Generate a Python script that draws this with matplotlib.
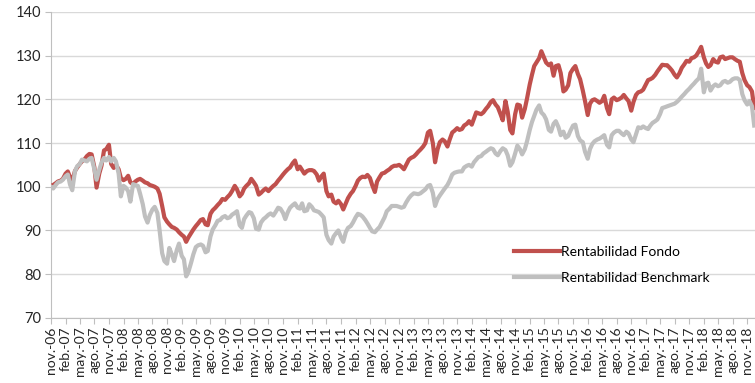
import matplotlib
matplotlib.use("Agg")
import matplotlib.pyplot as plt
import matplotlib.dates as mdates
from matplotlib.ticker import FuncFormatter, MultipleLocator
import pandas as pd

plt.rcParams['font.family'] = ['Lato', 'DejaVu Sans']

# semi-monthly observations, nov-06 .. dic-18
fechas = pd.date_range("2006-11-01", periods=292, freq="SMS")

fondo = [
    100.2, 100.4, 100.8, 101.2,
    # 2007
    101.4, 101.8, 103.0, 103.5, 102.2, 101.3, 103.6, 104.4, 105.2, 105.8, 106.3, 107.0,
    107.5, 107.4, 104.5, 99.8, 103.0, 104.8, 108.3, 108.6, 109.6, 105.2, 104.3, 105.0,
    # 2008
    104.0, 102.0, 101.5, 101.8, 102.5, 101.0, 100.6, 101.2, 101.6, 101.8, 101.4, 101.0,
    100.8, 100.4, 100.2, 100.0, 99.6, 98.4, 95.6, 93.0, 92.0, 91.4, 90.8, 90.6,
    # 2009
    90.2, 89.6, 89.0, 88.6, 87.4, 88.4, 89.4, 90.2, 91.0, 91.6, 92.4, 92.6,
    91.4, 91.2, 93.8, 94.6, 95.2, 95.8, 96.4, 97.2, 97.0, 97.6, 98.2, 99.0,
    # 2010
    100.2, 99.4, 97.8, 98.4, 99.6, 100.2, 100.8, 101.8, 101.0, 100.2, 98.2, 98.6,
    99.2, 99.6, 99.0, 99.6, 100.2, 100.6, 101.4, 102.0, 102.8, 103.4, 104.0, 104.4,
    # 2011
    105.4, 106.0, 104.0, 104.6, 103.8, 103.0, 103.6, 103.8, 103.8, 103.6, 102.8, 101.4,
    102.4, 103.0, 99.0, 97.8, 98.2, 96.6, 96.2, 96.8, 96.0, 94.8, 96.2, 97.4,
    # 2012
    98.4, 99.0, 100.2, 101.4, 102.0, 102.3, 102.2, 102.7, 102.0, 100.4, 98.8, 101.2,
    102.2, 103.0, 103.2, 103.6, 104.0, 104.5, 104.8, 104.8, 105.0, 104.6, 104.0, 105.0,
    # 2013
    106.2, 106.6, 106.9, 107.4, 108.0, 108.5, 109.2, 110.0, 112.4, 112.8, 110.0, 105.6,
    108.6, 110.2, 110.8, 110.4, 109.2, 110.8, 112.4, 112.8, 113.4, 113.0, 113.2, 114.0,
    # 2014
    114.4, 115.0, 114.2, 115.6, 117.0, 116.8, 116.6, 117.0, 117.8, 118.4, 119.4, 119.8,
    118.8, 118.2, 116.6, 115.2, 119.6, 117.2, 113.0, 112.2, 116.6, 118.8, 118.6, 115.8,
    # 2015
    117.8, 120.2, 123.4, 125.6, 127.6, 128.4, 129.4, 131.0, 129.6, 128.4, 127.8, 128.2,
    125.4, 127.6, 127.8, 126.0, 121.8, 122.2, 123.2, 126.0, 127.0, 127.6, 125.8, 124.6,
    # 2016
    122.0, 119.6, 116.4, 119.0, 119.8, 120.0, 119.6, 119.2, 119.6, 120.8, 118.0, 116.6,
    120.0, 120.4, 119.8, 120.0, 120.4, 121.0, 120.2, 119.6, 117.4, 119.4, 121.0, 121.6,
    # 2017
    121.8, 122.2, 123.4, 124.4, 124.6, 124.9, 125.6, 126.4, 127.2, 127.9, 127.8, 127.8,
    127.2, 126.6, 125.6, 125.0, 126.0, 127.2, 128.0, 128.8, 128.6, 129.4, 129.6, 130.0,
    # 2018
    131.0, 132.0, 129.6, 128.2, 127.4, 127.8, 129.2, 128.6, 128.4, 129.6, 129.8, 129.2,
    129.4, 129.6, 129.6, 129.2, 128.8, 128.6, 126.0, 124.4, 123.2, 122.8, 121.8, 118.0,
]

benchmark = [
    100.0, 99.6, 100.4, 101.0,
    # 2007
    101.2, 101.6, 102.4, 102.8, 100.5, 99.2, 103.5, 104.7, 105.2, 106.2, 106.0, 105.8,
    106.4, 106.6, 104.0, 101.6, 103.9, 105.5, 106.6, 106.0, 106.8, 105.8, 106.6, 105.8,
    # 2008
    103.0, 97.8, 100.2, 99.8, 99.0, 96.6, 100.6, 100.4, 100.2, 98.4, 96.0, 93.2,
    91.8, 93.5, 94.8, 95.4, 94.0, 90.0, 84.8, 83.0, 82.4, 86.0, 84.5, 83.0,
    # 2009
    85.5, 87.0, 84.2, 83.4, 79.5, 80.5, 82.6, 84.5, 86.2, 86.6, 86.8, 86.5,
    85.0, 85.3, 88.6, 90.2, 91.2, 92.2, 92.4, 93.0, 93.3, 92.8, 93.0, 93.6,
    # 2010
    94.0, 94.4, 91.2, 90.6, 92.6, 93.4, 94.2, 94.0, 92.8, 90.4, 90.2, 91.8,
    92.6, 93.0, 93.6, 93.9, 93.4, 94.2, 95.2, 95.0, 94.0, 92.6, 94.2, 95.2,
    # 2011
    95.8, 96.2, 95.2, 95.0, 96.2, 94.4, 94.6, 96.0, 95.4, 94.6, 94.4, 94.2,
    93.6, 93.0, 89.0, 87.8, 87.0, 88.6, 89.4, 90.0, 88.4, 87.4, 89.6, 90.6,
    # 2012
    91.0, 91.8, 93.0, 93.8, 93.6, 93.2, 92.4, 91.6, 90.6, 89.8, 89.6, 90.2,
    90.8, 91.8, 93.0, 94.4, 95.0, 95.6, 95.6, 95.6, 95.4, 95.2, 95.4, 96.4,
    # 2013
    97.4, 98.0, 98.5, 98.4, 98.3, 98.5, 99.0, 99.4, 100.2, 100.4, 98.6, 95.6,
    97.2, 98.0, 98.9, 99.6, 100.4, 101.4, 102.8, 103.2, 103.4, 103.5, 103.5, 104.4,
    # 2014
    104.8, 105.0, 104.6, 105.6, 106.2, 106.8, 107.0, 107.6, 108.0, 108.4, 108.8, 108.6,
    107.6, 107.2, 108.2, 108.8, 108.4, 107.2, 104.8, 105.6, 107.6, 109.4, 108.6, 107.4,
    # 2015
    108.6, 110.4, 113.0, 114.8, 116.2, 117.6, 118.6, 117.0, 116.4, 115.4, 113.0, 112.6,
    114.4, 115.0, 113.6, 111.8, 112.6, 111.2, 111.6, 112.8, 114.0, 114.2, 111.6, 110.6,
    # 2016
    110.2, 108.0, 106.4, 108.6, 109.8, 110.4, 110.8, 111.0, 111.4, 111.8, 109.6, 109.0,
    111.8, 112.4, 112.8, 112.8, 112.2, 111.8, 112.6, 112.2, 110.8, 110.2, 112.0, 113.6,
    # 2017
    113.4, 113.8, 113.4, 113.2, 114.0, 114.6, 115.0, 115.4, 116.6, 118.0, 118.2, 118.4,
    118.6, 118.8, 119.0, 119.4, 120.0, 120.6, 121.2, 121.8, 122.4, 123.0, 123.6, 124.2,
    # 2018
    124.8, 127.0, 121.6, 123.6, 123.8, 122.0, 123.0, 123.4, 123.0, 123.2, 124.0, 124.2,
    123.8, 124.0, 124.6, 124.8, 124.8, 124.4, 121.2, 119.8, 118.8, 119.6, 118.4, 114.0,
]

meses = ["ene.", "feb.", "mar.", "abr.", "may.", "jun.",
         "jul.", "ago.", "sep.", "oct.", "nov.", "dic."]

fig = plt.figure(figsize=(7.55, 3.83), dpi=100)
ax = fig.add_axes([0.0675, 0.170, 0.9325, 0.799])

ax.plot(fechas, fondo, color="#C0504D", lw=3, label="Rentabilidad Fondo",
        solid_joinstyle="round", zorder=3)
ax.plot(fechas, benchmark, color="#BFBFBF", lw=3, label="Rentabilidad Benchmark",
        solid_joinstyle="round", zorder=4)

ax.set_ylim(70, 140)
ax.yaxis.set_major_locator(MultipleLocator(10))
ax.set_xlim(pd.Timestamp("2006-11-01"), pd.Timestamp("2018-12-20"))

ax.xaxis.set_major_locator(mdates.MonthLocator(bymonth=[2, 5, 8, 11]))
ax.xaxis.set_major_formatter(FuncFormatter(
    lambda v, pos: (lambda d: f"{meses[d.month - 1]}-{d.strftime('%y')}")(mdates.num2date(v))))
plt.setp(ax.get_xticklabels(), rotation=90, fontsize=10, color="#262626")
plt.setp(ax.get_yticklabels(), fontsize=10.5, color="#262626")

ax.grid(axis="y", color="#D9D9D9", lw=1)
ax.set_axisbelow(True)
for s in ["top", "right"]:
    ax.spines[s].set_visible(False)
for s in ["left", "bottom"]:
    ax.spines[s].set_color("#BFBFBF")
ax.tick_params(axis="x", length=4, color="#BFBFBF", pad=2)
ax.tick_params(axis="y", length=4, color="#BFBFBF", pad=3)

leg = ax.legend(loc="lower left", bbox_to_anchor=(0.64, 0.07), frameon=False,
                fontsize=10, handlelength=3.3, handletextpad=0.05, labelspacing=1.0)
for h in leg.get_lines():
    h.set_linewidth(3)

fig.savefig("out.png", dpi=100)
